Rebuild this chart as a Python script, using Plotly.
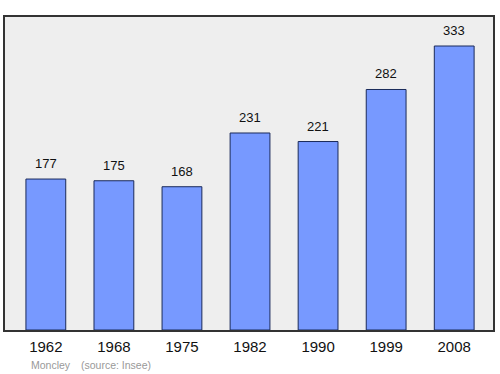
import plotly.graph_objects as go

years = ["1962", "1968", "1975", "1982", "1990", "1999", "2008"]
population = [177, 175, 168, 231, 221, 282, 333]
place = "Moncley"
source = "(source: Insee)"

fig = go.Figure()
fig.add_trace(go.Bar(
    x=list(range(len(years))), y=population, width=0.585,
    marker=dict(color="#7799ff", line=dict(color="#1a2a5a", width=1)),
    hoverinfo="skip",
))
for i, v in enumerate(population):
    fig.add_annotation(x=i, y=v, text=str(v), showarrow=False,
                       yanchor="bottom", yshift=6,
                       font=dict(size=13, color="#111111"))

fig.add_annotation(xref="paper", yref="paper", x=0.05, y=-0.113, xanchor="left", yanchor="middle",
                   text=place, showarrow=False, font=dict(size=10.5, color="#999999"))
fig.add_annotation(xref="paper", yref="paper", x=0.151, y=-0.113, xanchor="left", yanchor="middle",
                   text=source, showarrow=False, font=dict(size=10.5, color="#999999"))

fig.update_layout(
    width=500, height=374,
    margin=dict(l=5, r=5, t=17, b=44),
    paper_bgcolor="white", plot_bgcolor="#eeeeee",
    font=dict(family="Liberation Sans, Arial, sans-serif"),
    showlegend=False,
    xaxis=dict(range=[-0.6, 6.57], showgrid=False, ticks="", showline=True, mirror=True,
               tickmode="array", tickvals=list(range(len(years))), ticktext=years,
               ticklabelstandoff=2,
               linecolor="#333333", linewidth=1.5, tickfont=dict(size=15, color="#111111"),
               fixedrange=True),
    yaxis=dict(range=[0, 367], showgrid=False, showticklabels=False, ticks="", zeroline=False,
               showline=True, mirror=True, linecolor="#333333", linewidth=1.5, fixedrange=True),
)
fig.write_html("out.html")
